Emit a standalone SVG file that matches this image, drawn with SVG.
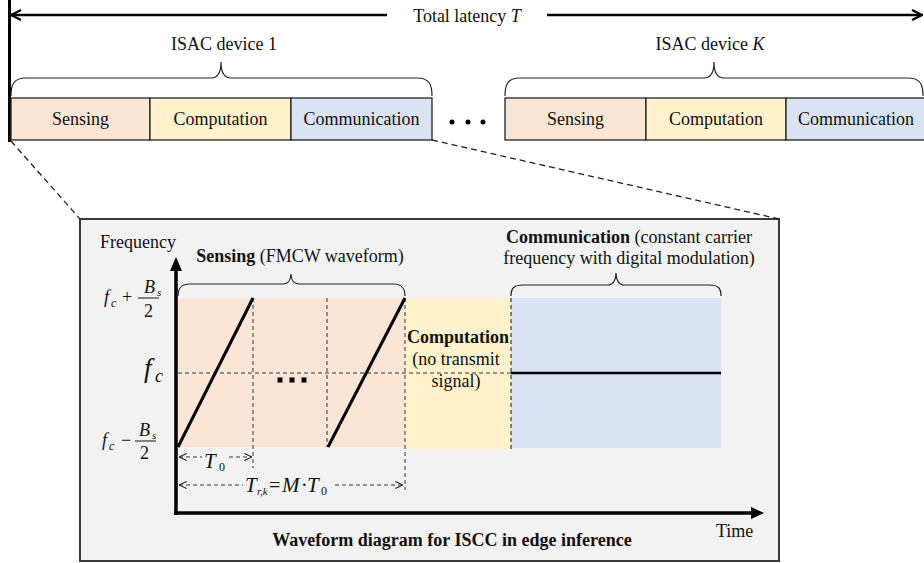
<svg xmlns="http://www.w3.org/2000/svg" width="924" height="563" viewBox="0 0 924 563">
<style>
text{font-family:"Liberation Serif","Times New Roman",serif;font-size:18px;fill:#111}
.b{font-weight:bold}
.i{font-style:italic}
.m{text-anchor:middle}
.sen{fill:#fbe5d6}
.com{fill:#fff2cc}
.cmm{fill:#dae3f3}
.blk{stroke:#222;stroke-width:1.3}
.brace{fill:none;stroke:#222;stroke-width:1.2}
.dash{fill:none;stroke:#333;stroke-width:1;stroke-dasharray:4,3}
.dashc{fill:none;stroke:#222;stroke-width:1.3;stroke-dasharray:6,4}
.thick{stroke:#000;stroke-width:3;fill:none}
</style>
<defs>
<marker id="big" viewBox="0 0 12 12" refX="11" refY="6" markerWidth="12" markerHeight="12" markerUnits="userSpaceOnUse" orient="auto-start-reverse">
<path d="M1,1 L11,6 L1,11" fill="none" stroke="#000" stroke-width="2.2"/>
</marker>
<marker id="oa" viewBox="0 0 10 10" refX="9.5" refY="5" markerWidth="9" markerHeight="9" markerUnits="userSpaceOnUse" orient="auto-start-reverse">
<path d="M1,1 L9.5,5 L1,9" fill="none" stroke="#222" stroke-width="1.2"/>
</marker>
</defs>

<rect width="924" height="563" fill="#fff"/>

<g id="total-latency">
<line x1="9.5" y1="0" x2="9.5" y2="142" stroke="#000" stroke-width="3"/>
<text x="467" y="22" class="m">Total latency <tspan class="i">T</tspan></text>
</g>

<g id="device1">
<text x="224" y="50" class="m">ISAC device 1</text>
<path class="brace" d="M11,96 C11,84 14,78 26,78 L211,78 C218,78 221,73 221,62 C221,73 224,78 231,78 L417,78 C429,78 432,84 432,96"/>
<rect x="11" y="98" width="139" height="42" class="sen blk"/>
<rect x="150" y="98" width="141" height="42" class="com blk"/>
<rect x="291" y="98" width="141" height="42" class="cmm blk"/>
<text x="80.5" y="125" class="m">Sensing</text>
<text x="220.5" y="125" class="m">Computation</text>
<text x="361.5" y="125" class="m">Communication</text>
</g>

<g id="ellipsis">
<circle cx="452" cy="122" r="2.5" fill="#000"/>
<circle cx="468" cy="122" r="2.5" fill="#000"/>
<circle cx="483" cy="122" r="2.5" fill="#000"/>
</g>

<g id="deviceK">
<text x="710" y="50" class="m">ISAC device <tspan class="i">K</tspan></text>
<path class="brace" d="M505,96 C505,84 508,78 520,78 L704,78 C711,78 714,73 714,62 C714,73 717,78 724,78 L908,78 C920,78 923,84 923,96"/>
<rect x="505" y="98" width="141" height="42" class="sen blk"/>
<rect x="646" y="98" width="140" height="42" class="com blk"/>
<rect x="786" y="98" width="140" height="42" class="cmm blk"/>
<text x="575.5" y="125" class="m">Sensing</text>
<text x="716" y="125" class="m">Computation</text>
<text x="856" y="125" class="m">Communication</text>
</g>

<g id="waveform-panel">
<rect x="80" y="219" width="699" height="342" fill="#f2f2f2" stroke="#3a3a3a" stroke-width="2"/>
<rect x="178" y="298" width="227" height="149" class="sen"/>
<rect x="405" y="298" width="106" height="151" class="com"/>
<rect x="511" y="298" width="210" height="150" class="cmm"/>

<line x1="253" y1="298" x2="253" y2="468" class="dash"/>
<line x1="327" y1="298" x2="327" y2="447" class="dash"/>
<line x1="405" y1="298" x2="405" y2="490" class="dash"/>
<line x1="511" y1="298" x2="511" y2="450" class="dash" style="stroke:#111"/>
<line x1="178" y1="373" x2="511" y2="373" class="dash"/>

<line x1="178" y1="447" x2="253" y2="298" class="thick"/>
<line x1="328" y1="447" x2="405" y2="298" class="thick"/>
<line x1="511" y1="373" x2="721" y2="373" stroke="#000" stroke-width="2.5"/>

<rect x="277.5" y="377.5" width="5" height="5" fill="#000"/>
<rect x="289.5" y="377.5" width="5" height="5" fill="#000"/>
<rect x="301.5" y="377.5" width="5" height="5" fill="#000"/>

<line x1="176" y1="515" x2="176" y2="268" stroke="#000" stroke-width="3.5"/>
<polygon points="176,257 170,271 182,271" fill="#000"/>
<line x1="174" y1="513" x2="753" y2="513" stroke="#000" stroke-width="3.5"/>
<polygon points="764,513 751,507 751,519" fill="#000"/>

<text x="100" y="248">Frequency</text>
<text x="716" y="537">Time</text>
<text x="300" y="262" class="m"><tspan class="b">Sensing</tspan> (FMCW waveform)</text>
<text x="629" y="243" class="m"><tspan class="b">Communication</tspan> (constant carrier</text>
<text x="629" y="264" class="m">frequency with digital modulation)</text>
<text x="458" y="343" class="m b">Computation</text>
<text x="456" y="365" class="m">(no transmit</text>
<text x="456" y="387" class="m">signal)</text>
<text x="452" y="546" class="m b">Waveform diagram for ISCC in edge inference</text>

<path class="brace" d="M178,296 C178,288 181,284 190,284 L283,284 C288,284 291,280 291,274 C291,280 294,284 299,284 L393,284 C402,284 405,288 405,296"/>
<path class="brace" d="M511,296 C511,288 514,285 523,285 L608,285 C613,285 616,280 616,273 C616,280 619,285 624,285 L709,285 C718,285 721,288 721,296"/>

<text x="104" y="303" class="i">f</text>
<text x="111" y="307" class="i" style="font-size:12px">c</text>
<text x="122" y="303">+</text>
<text x="144" y="293" class="i">B</text>
<text x="157" y="296" class="i" style="font-size:11px">s</text>
<line x1="138" y1="298" x2="159" y2="298" stroke="#111" stroke-width="1"/>
<text x="144" y="317">2</text>

<text x="144" y="377" class="i" style="font-size:27px">f</text>
<text x="155" y="382" class="i" style="font-size:18px">c</text>

<text x="102" y="446" class="i">f</text>
<text x="109" y="450" class="i" style="font-size:12px">c</text>
<text x="121" y="446">−</text>
<text x="139" y="436" class="i">B</text>
<text x="152" y="439" class="i" style="font-size:11px">s</text>
<line x1="135" y1="441" x2="156" y2="441" stroke="#111" stroke-width="1"/>
<text x="140" y="459">2</text>

<text x="204" y="468" class="i" style="font-size:21px">T</text>
<text x="219" y="471" style="font-size:12px">0</text>
<text x="245" y="492" class="i" style="font-size:21px">T</text>
<text x="257" y="495" class="i" style="font-size:11px">r,k</text>
<text x="269" y="492" style="font-size:20px">=</text>
<text x="282" y="492" class="i" style="font-size:21px">M</text>
<text x="301" y="492" style="font-size:20px">·</text>
<text x="307" y="492" class="i" style="font-size:21px">T</text>
<text x="321" y="495" style="font-size:12px">0</text>
</g>

<g id="connectors">
<line x1="387" y1="15" x2="11" y2="15" stroke="#000" stroke-width="2.5" marker-end="url(#big)"/>
<line x1="547" y1="15" x2="922" y2="15" stroke="#000" stroke-width="2.5" marker-end="url(#big)"/>
<line x1="11" y1="141" x2="80" y2="219" class="dashc"/>
<line x1="432" y1="140" x2="779" y2="219" class="dashc"/>
<line x1="179" y1="457" x2="202" y2="457" class="dash" marker-start="url(#oa)"/>
<line x1="229" y1="457" x2="252" y2="457" class="dash" marker-end="url(#oa)"/>
<line x1="179" y1="485" x2="243" y2="485" class="dash" marker-start="url(#oa)"/>
<line x1="335" y1="485" x2="403" y2="485" class="dash" marker-end="url(#oa)"/>
</g>
</svg>
